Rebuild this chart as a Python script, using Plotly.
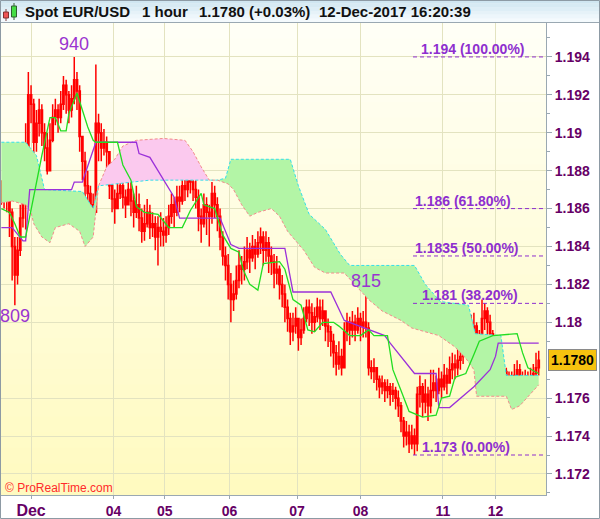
import plotly.graph_objects as go

# ---------------- data ----------------
first_open = 1.1872
closes = [
    1.1870, 1.1868, 1.1866, 1.1858, 1.1840, 1.1825, 1.1838, 1.1855, 1.1868, 1.1888,
    1.1920, 1.1915, 1.1895, 1.1905, 1.1912, 1.1900, 1.1892, 1.1880, 1.1896, 1.1908,
    1.1912, 1.1908, 1.1915, 1.1925, 1.1920, 1.1912, 1.1918, 1.1928, 1.1922, 1.1898,
    1.1885, 1.1872, 1.1868, 1.1862, 1.1858, 1.1905, 1.1900, 1.1892, 1.1895, 1.1890,
    1.1872, 1.1865, 1.1860, 1.1868, 1.1872, 1.1866, 1.1862, 1.1870, 1.1864, 1.1858,
    1.1862, 1.1855, 1.1848, 1.1852, 1.1858, 1.1850, 1.1852, 1.1845, 1.1850, 1.1848,
    1.1846, 1.1850, 1.1856, 1.1862, 1.1858, 1.1866, 1.1864, 1.1872, 1.1870, 1.1876,
    1.1874, 1.1870, 1.1866, 1.1856, 1.1852, 1.1862, 1.1858, 1.1856, 1.1868, 1.1862,
    1.1856, 1.1845, 1.1835, 1.1830, 1.1820, 1.1812, 1.1815, 1.1822, 1.1830, 1.1828,
    1.1832, 1.1838, 1.1834, 1.1840, 1.1836, 1.1842, 1.1845, 1.1838, 1.1842, 1.1835,
    1.1832, 1.1826, 1.1828, 1.1820, 1.1815, 1.1808, 1.1802, 1.1795, 1.1798, 1.1802,
    1.1792, 1.1796, 1.1802, 1.1808, 1.1805, 1.1800, 1.1803, 1.1808, 1.1802, 1.1806,
    1.1798, 1.1795, 1.1790, 1.1784, 1.1778, 1.1782, 1.1776, 1.1795, 1.1800, 1.1796,
    1.1800, 1.1796, 1.1802, 1.1798, 1.1800, 1.1797, 1.1776, 1.1774, 1.1776, 1.1770,
    1.1766, 1.1768, 1.1764, 1.1766, 1.1762, 1.1764, 1.1760, 1.1756, 1.1748, 1.1740,
    1.1742, 1.1736, 1.1740, 1.1736, 1.1762, 1.1766, 1.1758, 1.1762, 1.1756, 1.1764,
    1.1768, 1.1764, 1.1770, 1.1766, 1.1772, 1.1768, 1.1775, 1.1778, 1.1776, 1.1780,
    1.1782, 1.1784, 1.1795, 1.1800, 1.1796, 1.1798, 1.1784, 1.1790, 1.1802, 1.1806,
    1.1800, 1.1794, 1.1780, 1.1772, 1.1768, 1.1770, 1.1774, 1.1770, 1.1765, 1.1768,
    1.1772, 1.1775, 1.1770, 1.1767, 1.1770, 1.1768, 1.1771, 1.1773, 1.1776, 1.1780,
]
highs = [
    1.1875, 1.1876, 1.1872, 1.1868, 1.1860, 1.1845, 1.1845, 1.1862, 1.1875, 1.1905,
    1.1932, 1.1925, 1.1918, 1.1912, 1.1918, 1.1915, 1.1905, 1.1900, 1.1905, 1.1915,
    1.1918, 1.1915, 1.1922, 1.1930, 1.1928, 1.1922, 1.1925, 1.1940, 1.1932, 1.1925,
    1.1898, 1.1890, 1.1880, 1.1872, 1.1868, 1.1936, 1.1910, 1.1905, 1.1902, 1.1898,
    1.1890, 1.1875, 1.1870, 1.1876, 1.1880, 1.1878, 1.1870, 1.1876, 1.1874, 1.1868,
    1.1872, 1.1868, 1.1860, 1.1862, 1.1865, 1.1862, 1.1858, 1.1856, 1.1856, 1.1858,
    1.1855, 1.1856, 1.1862, 1.1868, 1.1866, 1.1872, 1.1872, 1.1876, 1.1878, 1.1880,
    1.1880, 1.1878, 1.1875, 1.1870, 1.1860, 1.1868, 1.1866, 1.1862, 1.1874, 1.1872,
    1.1866, 1.1860, 1.1848, 1.1840, 1.1836, 1.1826, 1.1822, 1.1830, 1.1838, 1.1835,
    1.1840, 1.1845, 1.1842, 1.1846, 1.1844, 1.1848, 1.1850, 1.1848, 1.1848, 1.1845,
    1.1840, 1.1836, 1.1835, 1.1830, 1.1825, 1.1820, 1.1812, 1.1805, 1.1805, 1.1808,
    1.1800, 1.1802, 1.1808, 1.1812, 1.1812, 1.1810, 1.1808, 1.1813, 1.1812, 1.1812,
    1.1806, 1.1802, 1.1798, 1.1794, 1.1788, 1.1790, 1.1786, 1.1800, 1.1805, 1.1803,
    1.1806, 1.1804, 1.1808, 1.1805, 1.1806, 1.1815, 1.1800, 1.1780, 1.1781, 1.1776,
    1.1772, 1.1772, 1.1770, 1.1770, 1.1768, 1.1768, 1.1766, 1.1764, 1.1758, 1.1750,
    1.1748, 1.1746, 1.1746, 1.1744, 1.1766, 1.1772, 1.1768, 1.1770, 1.1766, 1.1775,
    1.1775, 1.1772, 1.1776, 1.1774, 1.1778, 1.1776, 1.1782, 1.1784, 1.1783, 1.1786,
    1.1788, 1.1790, 1.1800, 1.1806, 1.1804, 1.1805, 1.1800, 1.1796, 1.1812, 1.1810,
    1.1808, 1.1804, 1.1796, 1.1782, 1.1776, 1.1776, 1.1778, 1.1776, 1.1774, 1.1774,
    1.1778, 1.1780, 1.1778, 1.1774, 1.1775, 1.1774, 1.1776, 1.1778, 1.1784, 1.1785,
]
lows = [
    1.1862, 1.1860, 1.1858, 1.1845, 1.1822, 1.1809, 1.1820, 1.1835, 1.1850, 1.1849,
    1.1888, 1.1905, 1.1888, 1.1890, 1.1898, 1.1893, 1.1885, 1.1878, 1.1882, 1.1895,
    1.1904, 1.1900, 1.1905, 1.1912, 1.1910, 1.1905, 1.1908, 1.1915, 1.1912, 1.1890,
    1.1875, 1.1862, 1.1858, 1.1852, 1.1850, 1.1858, 1.1885, 1.1885, 1.1888, 1.1880,
    1.1865, 1.1858, 1.1852, 1.1860, 1.1865, 1.1860, 1.1855, 1.1862, 1.1856, 1.1850,
    1.1855, 1.1848, 1.1842, 1.1843, 1.1850, 1.1844, 1.1845, 1.1838, 1.1830, 1.1840,
    1.1840, 1.1842, 1.1846, 1.1852, 1.1850, 1.1856, 1.1858, 1.1862, 1.1864, 1.1866,
    1.1868, 1.1864, 1.1860, 1.1848, 1.1842, 1.1850, 1.1846, 1.1840, 1.1852, 1.1855,
    1.1848, 1.1838, 1.1830, 1.1822, 1.1812, 1.1800, 1.1806, 1.1812, 1.1818, 1.1820,
    1.1822, 1.1828, 1.1826, 1.1832, 1.1828, 1.1834, 1.1836, 1.1830, 1.1832, 1.1826,
    1.1825, 1.1818, 1.1820, 1.1812, 1.1808, 1.1800, 1.1795, 1.1788, 1.1790, 1.1794,
    1.1785, 1.1788, 1.1794, 1.1800, 1.1798, 1.1794, 1.1795, 1.1800, 1.1796, 1.1798,
    1.1790, 1.1787, 1.1782, 1.1776, 1.1772, 1.1775, 1.1772, 1.1776, 1.1790, 1.1788,
    1.1792, 1.1790, 1.1794, 1.1790, 1.1792, 1.1792, 1.1772, 1.1770, 1.1768, 1.1764,
    1.1760, 1.1762, 1.1758, 1.1760, 1.1756, 1.1758, 1.1754, 1.1750, 1.1742, 1.1734,
    1.1735, 1.1731, 1.1733, 1.1730, 1.1732, 1.1755, 1.1750, 1.1752, 1.1748, 1.1752,
    1.1760, 1.1758, 1.1762, 1.1760, 1.1764, 1.1762, 1.1768, 1.1770, 1.1770, 1.1772,
    1.1775, 1.1778, 1.1782, 1.1792, 1.1790, 1.1792, 1.1778, 1.1780, 1.1788, 1.1796,
    1.1792, 1.1786, 1.1776, 1.1766, 1.1762, 1.1764, 1.1766, 1.1762, 1.1760, 1.1760,
    1.1766, 1.1768, 1.1762, 1.1762, 1.1765, 1.1764, 1.1766, 1.1768, 1.1770, 1.1772,
]

# Ichimoku lines (bar index, price)
tenkan_x = [0, 3, 5, 7, 9, 12.5, 15, 18, 20, 22, 24, 25, 28, 30, 32, 34, 35, 43, 45, 48, 50,
            53, 58, 62, 67, 70, 74, 75, 79, 82, 85, 88, 89.5, 92, 95, 97, 103, 105, 108, 111, 113.5,
            116, 119, 123, 125, 129, 133, 136, 138, 143, 145, 148, 151, 156, 161, 163, 166, 168, 172, 175, 177,
            182, 191, 193, 195, 199]
tenkan_y = [1.1860, 1.1858, 1.1852, 1.1845, 1.1845, 1.1871, 1.1888, 1.1908, 1.1908, 1.1901, 1.1901,
            1.1910, 1.1921, 1.1912, 1.1903, 1.1896, 1.1895, 1.1895, 1.1883, 1.1875, 1.1861,
            1.1858, 1.1857, 1.1850, 1.1850, 1.1859, 1.1868, 1.1862, 1.1860, 1.1846, 1.1839,
            1.1837, 1.1828, 1.1820, 1.1817, 1.1831, 1.1832, 1.1828, 1.1812, 1.1809, 1.1796,
            1.1795, 1.1800, 1.1800, 1.1798, 1.1793, 1.1793, 1.1796, 1.1793, 1.1793, 1.1775,
            1.1764, 1.1753, 1.1750, 1.1751, 1.1760, 1.1761, 1.1771, 1.1773, 1.1783, 1.1790,
            1.1793, 1.1794, 1.1784, 1.1776, 1.1773]
kijun_x = [0, 4, 8, 9, 10.5, 26, 27, 30, 35, 50, 51, 55, 64, 66, 81, 85, 88, 105, 108, 122, 127, 142,
           144, 153, 161, 162, 166, 175, 181, 183, 184, 199]
kijun_y = [1.1850, 1.1850, 1.1843, 1.1843, 1.1870, 1.1870, 1.1874, 1.1874, 1.1895, 1.1895, 1.1889, 1.1887,
           1.1866, 1.1855, 1.1855, 1.1841, 1.1839, 1.1839, 1.1816, 1.1816, 1.1801, 1.1793,
           1.1789, 1.1773, 1.1773, 1.1755, 1.1755, 1.1766, 1.1775, 1.1782, 1.1789, 1.1789]
spanA_x = [0, 9, 13, 16, 30, 34, 36, 55, 80, 83, 85, 107, 110, 114, 120, 125.5, 129, 153, 157,
           162.5, 173, 175.5, 185, 187, 199]
spanA_y = [1.1895, 1.1895, 1.1888, 1.1870, 1.1869, 1.1860, 1.1872, 1.1875, 1.1875,
           1.1876, 1.1886, 1.1886, 1.1872, 1.1857, 1.1849, 1.1836, 1.1830, 1.1830, 1.1820,
           1.1811, 1.1809, 1.1794, 1.1793, 1.1772, 1.1772]
spanB_x = [0, 4, 9, 11, 12, 15, 18, 20, 25, 29, 31, 34, 36, 39, 42, 45, 50, 60, 68, 71, 74, 77,
           80, 84, 86, 89, 92, 95, 100, 103, 106, 109, 112, 116, 120, 127, 131, 136, 141, 148, 152, 162,
           165, 168, 172, 175, 176, 187, 189, 192, 199]
spanB_y = [1.1863, 1.1864, 1.1862, 1.1858, 1.1852, 1.1845, 1.1842, 1.1850, 1.1852, 1.1848, 1.1840, 1.1845,
           1.1872, 1.1882, 1.1886, 1.1893, 1.1896, 1.1897, 1.1896, 1.1890, 1.1882, 1.1875,
           1.1875, 1.1873, 1.1870, 1.1862, 1.1856, 1.1858, 1.1860, 1.1856, 1.1848, 1.1843,
           1.1838, 1.1829, 1.1826, 1.1826, 1.1820, 1.1812, 1.1806, 1.1801, 1.1797, 1.1793,
           1.1790, 1.1787, 1.1781, 1.1775, 1.1761, 1.1761, 1.1754, 1.1756, 1.1767]
# cloud segments: (from bar, to bar, span A above B?)
cloud_segments = [(0, 36, True), (36, 80, False), (80, 199, True)]

day_tick_idx = [11, 41.5, 60.5, 84.5, 109.5, 133, 163.5, 183]
day_tick_labels = ["Dec", "04", "05", "06", "07", "08", "11", "12"]

# 1.178 label is hidden behind the last-price box in the reference
price_ticks = [1.172, 1.174, 1.176, 1.180, 1.182, 1.184, 1.186, 1.188, 1.190, 1.192, 1.194]
price_tick_labels = ["1.172", "1.174", "1.176", "1.18", "1.182", "1.184", "1.186",
                     "1.188", "1.19", "1.192", "1.194"]

fib_levels = [1.194, 1.186, 1.1835, 1.181, 1.173]
fib_labels = ["1.194 (100.00%)", "1.186 (61.80%)", "1.1835 (50.00%)", "1.181 (38.20%)", "1.173 (0.00%)"]

extreme_labels = [(27, "high", "940"), (5, "low", "809"), (135, "high", "815")]

title_parts = ["Spot EUR/USD", "1 hour", "1.1780 (+0.03%)", "12-Dec-2017 16:20:39"]
last_price = 1.1780
last_price_text = "1.1780"

# ---------------- layout helpers ----------------
W, H = 600, 519
PR, PT, PB = 546, 23, 495
def px(x):
    return x / PR
def py(y):
    return (PB - y) / (PB - PT)

FONT = "Liberation Sans, Arial, sans-serif"
PURPLE_TXT = "#660066"
FIB_COL = "#8E2FCF"

opens = [first_open] + closes[:-1]
hi = [max(h, o, c) for h, o, c in zip(highs, opens, closes)]
lo = [min(l, o, c) for l, o, c in zip(lows, opens, closes)]
bars = list(range(len(closes)))

fig = go.Figure()

# cloud fills
for a, b, a_above in cloud_segments:
    pa = [(x, y) for x, y in zip(spanA_x, spanA_y) if a <= x <= b]
    pb = [(x, y) for x, y in zip(spanB_x, spanB_y) if a <= x <= b]
    xs = [p[0] for p in pa] + [p[0] for p in pb[::-1]]
    ys = [p[1] for p in pa] + [p[1] for p in pb[::-1]]
    fig.add_trace(go.Scatter(x=xs, y=ys, mode="lines", fill="toself",
                             fillcolor="#b3f5a6" if a_above else "#fbc9ee",
                             line=dict(width=0), hoverinfo="skip", showlegend=False))

fig.add_trace(go.Scatter(x=spanA_x, y=spanA_y, mode="lines",
                         line=dict(color="#33e0ea", width=1, dash="3px,2px"), showlegend=False))
fig.add_trace(go.Scatter(x=spanB_x, y=spanB_y, mode="lines",
                         line=dict(color="#f28c8c", width=1, dash="3px,2px"), showlegend=False))

fig.add_trace(go.Candlestick(
    x=bars, open=opens, high=hi, low=lo, close=closes,
    increasing=dict(line=dict(color="#ff0000", width=1.5), fillcolor="#fffff2"),
    decreasing=dict(line=dict(color="#ff0000", width=1.5), fillcolor="#4a34b0"),
    whiskerwidth=0, showlegend=False))

fig.add_trace(go.Scatter(x=kijun_x, y=kijun_y, mode="lines",
                         line=dict(color="#9b30d9", width=1.3), showlegend=False))
fig.add_trace(go.Scatter(x=tenkan_x, y=tenkan_y, mode="lines",
                         line=dict(color="#22dd22", width=1.3), showlegend=False))

shapes = []
# plot background gradient
n = 30
top_c, bot_c = (255, 255, 246), (255, 250, 192)
for k in range(n):
    t = k / (n - 1)
    r = round(bot_c[0] + (top_c[0] - bot_c[0]) * t)
    g = round(bot_c[1] + (top_c[1] - bot_c[1]) * t)
    bl = round(bot_c[2] + (top_c[2] - bot_c[2]) * t)
    shapes.append(dict(type="rect", xref="paper", yref="paper", x0=0, x1=1,
                       y0=k / n, y1=(k + 1) / n + 0.002, line=dict(width=0),
                       fillcolor=f"rgb({r},{g},{bl})", layer="below"))
# title bar gradient
tb = 6
for k in range(tb):
    t = k / (tb - 1)
    r = round(244 - 36 * t)
    g = round(250 - 20 * t)
    bl = round(253 - 12 * t)
    shapes.append(dict(type="rect", xref="paper", yref="paper", x0=0, x1=px(W),
                       y0=py(PT - 1 - (k) * (PT - 1) / tb) - 0.0001,
                       y1=py(PT - 1 - (k + 1) * (PT - 1) / tb),
                       line=dict(width=0), fillcolor=f"rgb({r},{g},{bl})", layer="below"))
# title bar bottom border and figure border
shapes.append(dict(type="line", xref="paper", yref="paper", x0=0, x1=px(W), y0=py(PT - 0.5), y1=py(PT - 0.5),
                   line=dict(color="#9aa8b2", width=1)))
shapes.append(dict(type="rect", xref="paper", yref="paper", x0=px(0.5), x1=px(W - 0.5),
                   y0=py(H - 0.5), y1=py(0.5), line=dict(color="#8d9aa4", width=1)))
# title icon (two small candles)
shapes += [
    dict(type="line", xref="paper", yref="paper", x0=px(6), x1=px(6), y0=py(21), y1=py(9),
         line=dict(color="#804040", width=1)),
    dict(type="rect", xref="paper", yref="paper", x0=px(3.5), x1=px(8.5), y0=py(18), y1=py(12),
         line=dict(color="#803030", width=1), fillcolor="#ee5555"),
    dict(type="line", xref="paper", yref="paper", x0=px(14), x1=px(14), y0=py(20), y1=py(3),
         line=dict(color="#306030", width=1)),
    dict(type="rect", xref="paper", yref="paper", x0=px(11.5), x1=px(16.5), y0=py(17), y1=py(6),
         line=dict(color="#306030", width=1), fillcolor="#44dd44"),
]
# fibonacci lines
for lvl in fib_levels:
    shapes.append(dict(type="line", xref="paper", yref="y", x0=px(413), x1=1, y0=lvl, y1=lvl,
                       line=dict(color=FIB_COL, width=1, dash="4px,3px")))

annotations = []
title_x = [23, 140, 197, 317]
for txt, x in zip(title_parts, title_x):
    annotations.append(dict(text=f"<b>{txt}</b>", xref="paper", yref="paper", x=px(x), y=py(11),
                            xanchor="left", yanchor="middle", showarrow=False,
                            font=dict(family=FONT, size=15, color="#111111")))
fib_left = [419, 413, 413, 420, 420]
for lvl, txt, x in zip(fib_levels, fib_labels, fib_left):
    annotations.append(dict(text=f"<b>{txt}</b>", xref="paper", yref="y", x=px(x), y=lvl,
                            xanchor="left", yanchor="middle", yshift=8, showarrow=False,
                            font=dict(family=FONT, size=14, color=FIB_COL)))
for i, kind, txt in extreme_labels:
    yv = highs[i] if kind == "high" else lows[i]
    annotations.append(dict(text=txt, x=i, y=yv, xref="x", yref="y", showarrow=False,
                            yshift=13 if kind == "high" else -11, xanchor="center", yanchor="middle",
                            font=dict(family=FONT, size=18, color="#9a34d0")))
annotations.append(dict(text="© ProRealTime.com", xref="paper", yref="paper", x=px(3), y=py(488),
                        xanchor="left", yanchor="middle", showarrow=False,
                        font=dict(family=FONT, size=12, color="#ff2a2a")))
annotations.append(dict(text=f"<b>{last_price_text}</b>", xref="paper", yref="y", x=px(548), y=last_price,
                        xanchor="left", yanchor="middle", showarrow=False, bgcolor="#f6c20f",
                        bordercolor="#8a8a8a", borderwidth=1, borderpad=2,
                        font=dict(family=FONT, size=14, color="#000000")))

xt = []
for lab in day_tick_labels:
    if lab == "Dec":
        xt.append("<b><span style='font-size:16px'>Dec</span></b>")
    else:
        xt.append(f"<b>{lab}</b>")

fig.update_layout(
    width=W, height=H,
    margin=dict(l=0, r=W - PR, t=PT, b=H - PB, pad=0),
    paper_bgcolor="white", plot_bgcolor="#fffde0",
    showlegend=False, hovermode=False,
    shapes=shapes, annotations=annotations,
    font=dict(family=FONT),
    xaxis=dict(range=[-0.5, 201.7], tickmode="array", tickvals=day_tick_idx, ticktext=xt,
               showgrid=True, gridcolor="#e3e3c0", gridwidth=1, zeroline=False,
               ticks="outside", ticklen=3, tickcolor="#9aa8b2",
               showline=True, linecolor="#9aa8b2", linewidth=1,
               tickfont=dict(family=FONT, size=14, color=PURPLE_TXT),
               rangeslider=dict(visible=False), fixedrange=True),
    yaxis=dict(range=[1.17089, 1.19579], side="right", tickmode="array",
               tickvals=price_ticks, ticktext=[f"<b>{t}</b>" for t in price_tick_labels],
               showgrid=True, gridcolor="#e3e3c0", gridwidth=1, zeroline=False,
               ticks="outside", ticklen=5, tickcolor="#9aa8b2",
               minor=dict(tick0=1.171, dtick=0.002, ticks="outside", ticklen=3,
                          tickcolor="#9aa8b2", showgrid=False),
               showline=True, linecolor="#9aa8b2", linewidth=1,
               tickfont=dict(family=FONT, size=14, color=PURPLE_TXT), fixedrange=True),
)

fig.write_html("out.html", config={"displayModeBar": False},
               post_script="document.body.style.margin='0px';document.body.style.overflow='hidden';")
